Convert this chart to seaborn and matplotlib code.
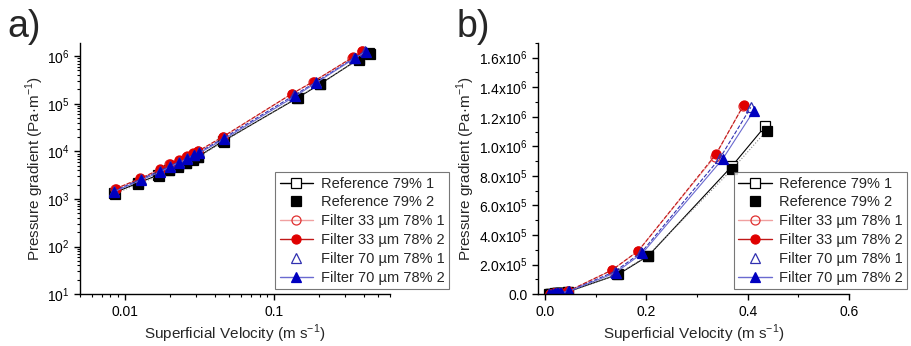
import matplotlib
matplotlib.use("Agg")
import matplotlib.pyplot as plt
import matplotlib.ticker as mticker
from matplotlib.lines import Line2D
import seaborn as sns
import numpy as np
import pandas as pd

sns.set_theme(style="ticks")
plt.rcParams['font.family'] = ['Liberation Sans', 'DejaVu Sans']
plt.rcParams['mathtext.fontset'] = 'custom'
plt.rcParams['mathtext.rm'] = 'Liberation Sans'

# Data: velocity (m/s) and pressure gradient (Pa/m)
series_names = ["Reference 79% 1", "Reference 79% 2",
                "Filter 33 \u00b5m 78% 1", "Filter 33 \u00b5m 78% 2",
                "Filter 70 \u00b5m 78% 1", "Filter 70 \u00b5m 78% 2"]

ref1_v = [0.0085, 0.0122, 0.0168, 0.0197, 0.0226, 0.0256, 0.0285, 0.0308, 0.0458, 0.144, 0.204, 0.369, 0.435]
ref1_p = [1350, 2150, 3200, 4100, 4900, 5800, 6800, 7700, 16500, 1.33e5, 2.60e5, 8.67e5, 1.139e6]

ref2_v = [0.0086, 0.0123, 0.0169, 0.0198, 0.0227, 0.0257, 0.0287, 0.0310, 0.0460, 0.142, 0.2026, 0.369, 0.437]
ref2_p = [1300, 2050, 3100, 4000, 4700, 5600, 6700, 7600, 16000, 1.34e5, 2.61e5, 8.44e5, 1.105e6]

f33a_v = [0.0086, 0.0126, 0.0171, 0.0199, 0.0229, 0.0258, 0.0286, 0.0310, 0.0455, 0.131, 0.183, 0.335, 0.390]
f33a_p = [1600, 2650, 4100, 5300, 6400, 7600, 9000, 10000, 20000, 1.60e5, 2.90e5, 9.30e5, 1.27e6]

f33b_v = [0.0087, 0.0127, 0.0172, 0.0200, 0.0230, 0.0259, 0.0287, 0.0311, 0.0456, 0.132, 0.184, 0.337, 0.392]
f33b_p = [1650, 2700, 4200, 5500, 6600, 7800, 9300, 10200, 20500, 1.63e5, 2.93e5, 9.46e5, 1.28e6]

f70a_v = [0.0084, 0.0128, 0.0172, 0.0201, 0.0230, 0.0260, 0.0289, 0.0313, 0.0460, 0.137, 0.190, 0.345, 0.406]
f70a_p = [1450, 2600, 3900, 5000, 6000, 7100, 8500, 9500, 19000, 1.52e5, 2.82e5, 9.20e5, 1.264e6]

f70b_v = [0.0084, 0.0129, 0.0173, 0.0202, 0.0231, 0.0261, 0.0290, 0.0315, 0.0462, 0.139, 0.192, 0.351, 0.412]
f70b_p = [1400, 2500, 3700, 4800, 5800, 6900, 8200, 9200, 18000, 1.45e5, 2.77e5, 9.17e5, 1.241e6]

all_v = [ref1_v, ref2_v, f33a_v, f33b_v, f70a_v, f70b_v]
all_p = [ref1_p, ref2_p, f33a_p, f33b_p, f70a_p, f70b_p]

# styles: marker, marker face, marker edge, line colour, line style, line width
styles = [
    dict(marker="s", mfc="white", mec="black", color="black", ls="-", lw=0.8),
    dict(marker="s", mfc="black", mec="black", color="#888888", ls=":", lw=0.8),
    dict(marker="o", mfc="none", mec="#e03030", color="#f0a0a0", ls="-", lw=0.8),
    dict(marker="o", mfc="#e00000", mec="#e00000", color="#c01818", ls="--", lw=0.8),
    dict(marker="^", mfc="none", mec="#3030b0", color="#3030b0", ls="--", lw=0.8),
    dict(marker="^", mfc="#0000c0", mec="#0000c0", color="#6a6ad0", ls="-", lw=0.8),
]
legend_lines = [True, False, True, True, False, True]

frames = []
for name, v, p in zip(series_names, all_v, all_p):
    frames.append(pd.DataFrame({"velocity": v, "gradient": p, "series": name}))
df = pd.concat(frames, ignore_index=True)

fig, axes = plt.subplots(1, 2, figsize=(9.12, 3.46), dpi=100)
ax_a, ax_b = axes
ax_a.set_position([0.0877, 0.150, 0.340, 0.726])
ax_b.set_position([0.590, 0.150, 0.341, 0.726])

for ax in axes:
    for name, st in zip(series_names, styles):
        sub = df[df["series"] == name]
        sns.lineplot(data=sub, x="velocity", y="gradient", ax=ax, estimator=None, sort=False,
                     marker=st["marker"], markersize=6.5, markerfacecolor=st["mfc"],
                     markeredgecolor=st["mec"], markeredgewidth=0.9,
                     color=st["color"], linestyle=st["ls"], linewidth=st["lw"])

# panel a: log-log
ax_a.set_xscale("log")
ax_a.set_yscale("log")
ax_a.set_xlim(0.005, 0.6)
ax_a.set_ylim(10, 1.9e6)
ax_a.xaxis.set_major_locator(mticker.FixedLocator([0.01, 0.1]))
ax_a.xaxis.set_major_formatter(mticker.FixedFormatter(["0.01", "0.1"]))
ax_a.xaxis.set_minor_locator(mticker.LogLocator(base=10, subs=np.arange(2, 10)))
ax_a.xaxis.set_minor_formatter(mticker.NullFormatter())
ax_a.yaxis.set_major_locator(mticker.LogLocator(base=10, numticks=10))
ax_a.yaxis.set_major_formatter(mticker.FuncFormatter(lambda y, pos: r"10$^{%d}$" % round(np.log10(y))))
ax_a.yaxis.set_minor_locator(mticker.LogLocator(base=10, subs=np.arange(2, 10), numticks=20))
ax_a.yaxis.set_minor_formatter(mticker.NullFormatter())

# panel b: linear
ax_b.set_xlim(-0.014, 0.6)
ax_b.set_ylim(0, 1.7e6)
ax_b.xaxis.set_major_locator(mticker.MultipleLocator(0.2))
ax_b.xaxis.set_minor_locator(mticker.MultipleLocator(0.1))
ax_b.xaxis.set_major_formatter(mticker.FormatStrFormatter("%.1f"))
ax_b.yaxis.set_major_locator(mticker.MultipleLocator(2e5))
ax_b.yaxis.set_minor_locator(mticker.MultipleLocator(1e5))


def sci_fmt(y, pos):
    if abs(y) < 1:
        return "0.0"
    if y < 0:
        return ""
    e = int(np.floor(np.log10(y)))
    return r"%.1fx10$^{%d}$" % (y / 10 ** e, e)


ax_b.yaxis.set_major_formatter(mticker.FuncFormatter(sci_fmt))

handles = []
for st, show_line in zip(styles, legend_lines):
    handles.append(Line2D([], [], marker=st["marker"], markersize=6.5, markerfacecolor=st["mfc"],
                          markeredgecolor=st["mec"], markeredgewidth=0.9,
                          color=st["color"], linestyle="-" if show_line else "none",
                          linewidth=1.0))

for ax, letter, lx in zip(axes, ["a)", "b)"], [-0.235, -0.262]):
    sns.despine(ax=ax)
    ax.spines["left"].set_linewidth(1.0)
    ax.spines["bottom"].set_linewidth(1.0)
    ax.spines["left"].set_color("black")
    ax.spines["bottom"].set_color("black")
    ax.tick_params(which="major", direction="out", length=4, width=1, labelsize=10, colors="black")
    ax.tick_params(which="minor", direction="out", length=2, width=0.8, colors="black")
    ax.set_xlabel("Superficial Velocity (m s$^{-1}$)", fontsize=11, labelpad=3)
    ax.set_ylabel("Pressure gradient (Pa\u00b7m$^{-1}$)", fontsize=11, labelpad=1)
    leg = ax.legend(handles, series_names, loc="lower left", bbox_to_anchor=(0.63, 0.02),
                    borderaxespad=0, fontsize=10.5, frameon=True, fancybox=False,
                    handlelength=2.3, handletextpad=0.5, labelspacing=0.33,
                    borderpad=0.3, edgecolor="#555555")
    leg.get_frame().set_linewidth(0.8)
    leg.set_clip_on(False)
    ax.text(lx, 1.024, letter, transform=ax.transAxes, fontsize=27, ha="left", va="baseline")

fig.savefig("out.png", dpi=100)
